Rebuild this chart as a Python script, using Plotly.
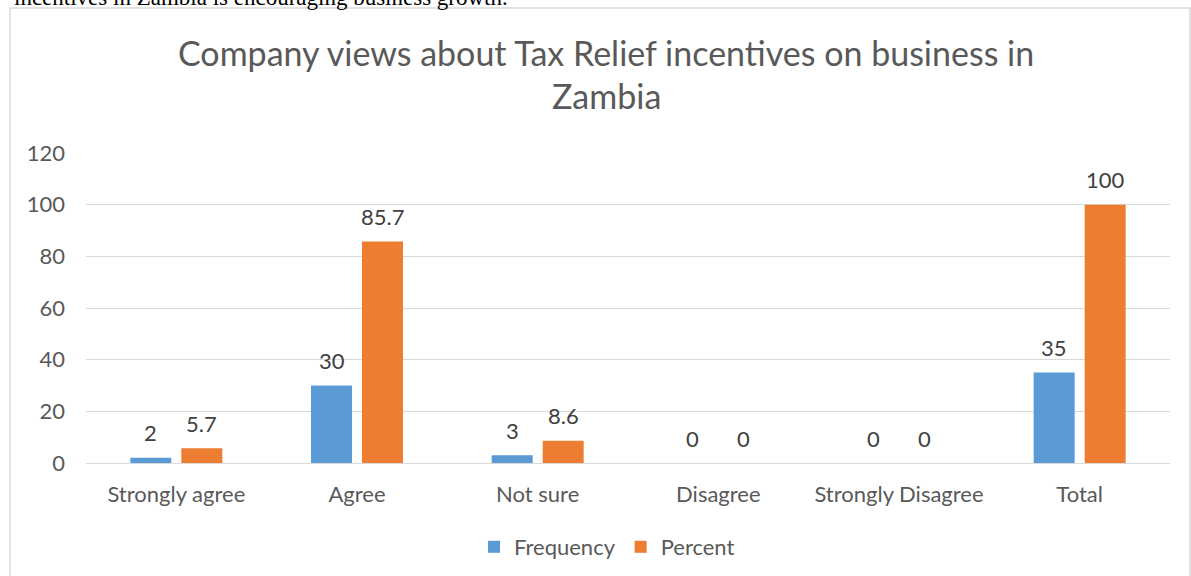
import plotly.graph_objects as go

categories = ["Strongly agree", "Agree", "Not sure", "Disagree", "Strongly Disagree", "Total"]
frequency = [2, 30, 3, 0, 0, 35]
percent = [5.7, 85.7, 8.6, 0, 0, 100]
y_ticks = [0, 20, 40, 60, 80, 100, 120]

BLUE = "#5b9bd5"
ORANGE = "#ed7d31"
GREY_TEXT = "#595959"
GRID = "#d9d9d9"
FONT = "Lato, Carlito, Calibri, sans-serif"

W, H = 1191, 576
plot_left, plot_right = 86, 1170
plot_top, plot_bottom = 153, 463
slot = (plot_right - plot_left) / len(categories)
bar_w = 41 / slot
off_freq = -46 / slot
off_pct = 5 / slot

fig = go.Figure()
fig.add_trace(go.Bar(
    name="Frequency", x=categories, y=frequency,
    marker=dict(color=BLUE, line=dict(width=0)),
    width=bar_w, offset=off_freq,
))
fig.add_trace(go.Bar(
    name="Percent", x=categories, y=percent,
    marker=dict(color=ORANGE, line=dict(width=0)),
    width=bar_w, offset=off_pct,
))

# value labels above each bar
annotations = []
for i, (f, p) in enumerate(zip(frequency, percent)):
    for val, off in ((f, off_freq), (p, off_pct)):
        annotations.append(dict(
            x=i + off + bar_w / 2, y=val, xref="x", yref="y",
            text=f"{val:g}", showarrow=False,
            yanchor="middle", yshift=25,
            font=dict(family=FONT, size=22, color="#404040"),
        ))

# chart title, two centred lines
title_lines = ["Company views about Tax Relief incentives on business in", "Zambia"]
for line, y_px in zip(title_lines, (52, 96)):
    annotations.append(dict(
        x=606 / W, y=1 - y_px / H,
        xref="paper", yref="paper", xanchor="center", yanchor="middle",
        text=line, showarrow=False,
        font=dict(family=FONT, size=34, color=GREY_TEXT),
    ))

# running text of the surrounding document, clipped by the page edge
annotations.append(dict(
    x=12 / W, y=1, xref="paper", yref="paper", xanchor="left", yanchor="middle",
    yshift=3, showarrow=False,
    text="incentives in Zambia is encouraging business growth.",
    font=dict(family="Liberation Serif, Times New Roman, serif", size=23, color="#000000"),
))

fig.update_layout(
    width=W, height=H,
    margin=dict(l=0, r=0, t=0, b=0, autoexpand=False),
    paper_bgcolor="white", plot_bgcolor="white",
    barmode="overlay",
    xaxis=dict(
        domain=[plot_left / W, plot_right / W],
        showgrid=False, showline=True, linecolor=GRID, linewidth=1,
        ticks="", tickfont=dict(family=FONT, size=22, color=GREY_TEXT),
        ticklabelstandoff=12, automargin=False,
    ),
    yaxis=dict(
        domain=[1 - plot_bottom / H, 1 - plot_top / H],
        range=[0, 120], tickvals=y_ticks,
        showgrid=True, gridcolor=GRID, gridwidth=1,
        zeroline=False, showline=False, ticks="",
        tickfont=dict(family=FONT, size=22, color=GREY_TEXT),
        ticklabelstandoff=20, automargin=False,
    ),
    legend=dict(
        orientation="h", x=607 / W, xanchor="center",
        y=1 - 547 / H, yanchor="middle",
        font=dict(family=FONT, size=22, color=GREY_TEXT),
        itemwidth=30,
    ),
    annotations=annotations,
    shapes=[dict(
        type="rect", xref="paper", yref="paper",
        x0=10 / W, x1=1190 / W, y0=-0.05, y1=1 - 8 / H,
        line=dict(color=GRID, width=1.5), fillcolor="rgba(0,0,0,0)", layer="below",
    )],
)

fig.write_html("out.html")
